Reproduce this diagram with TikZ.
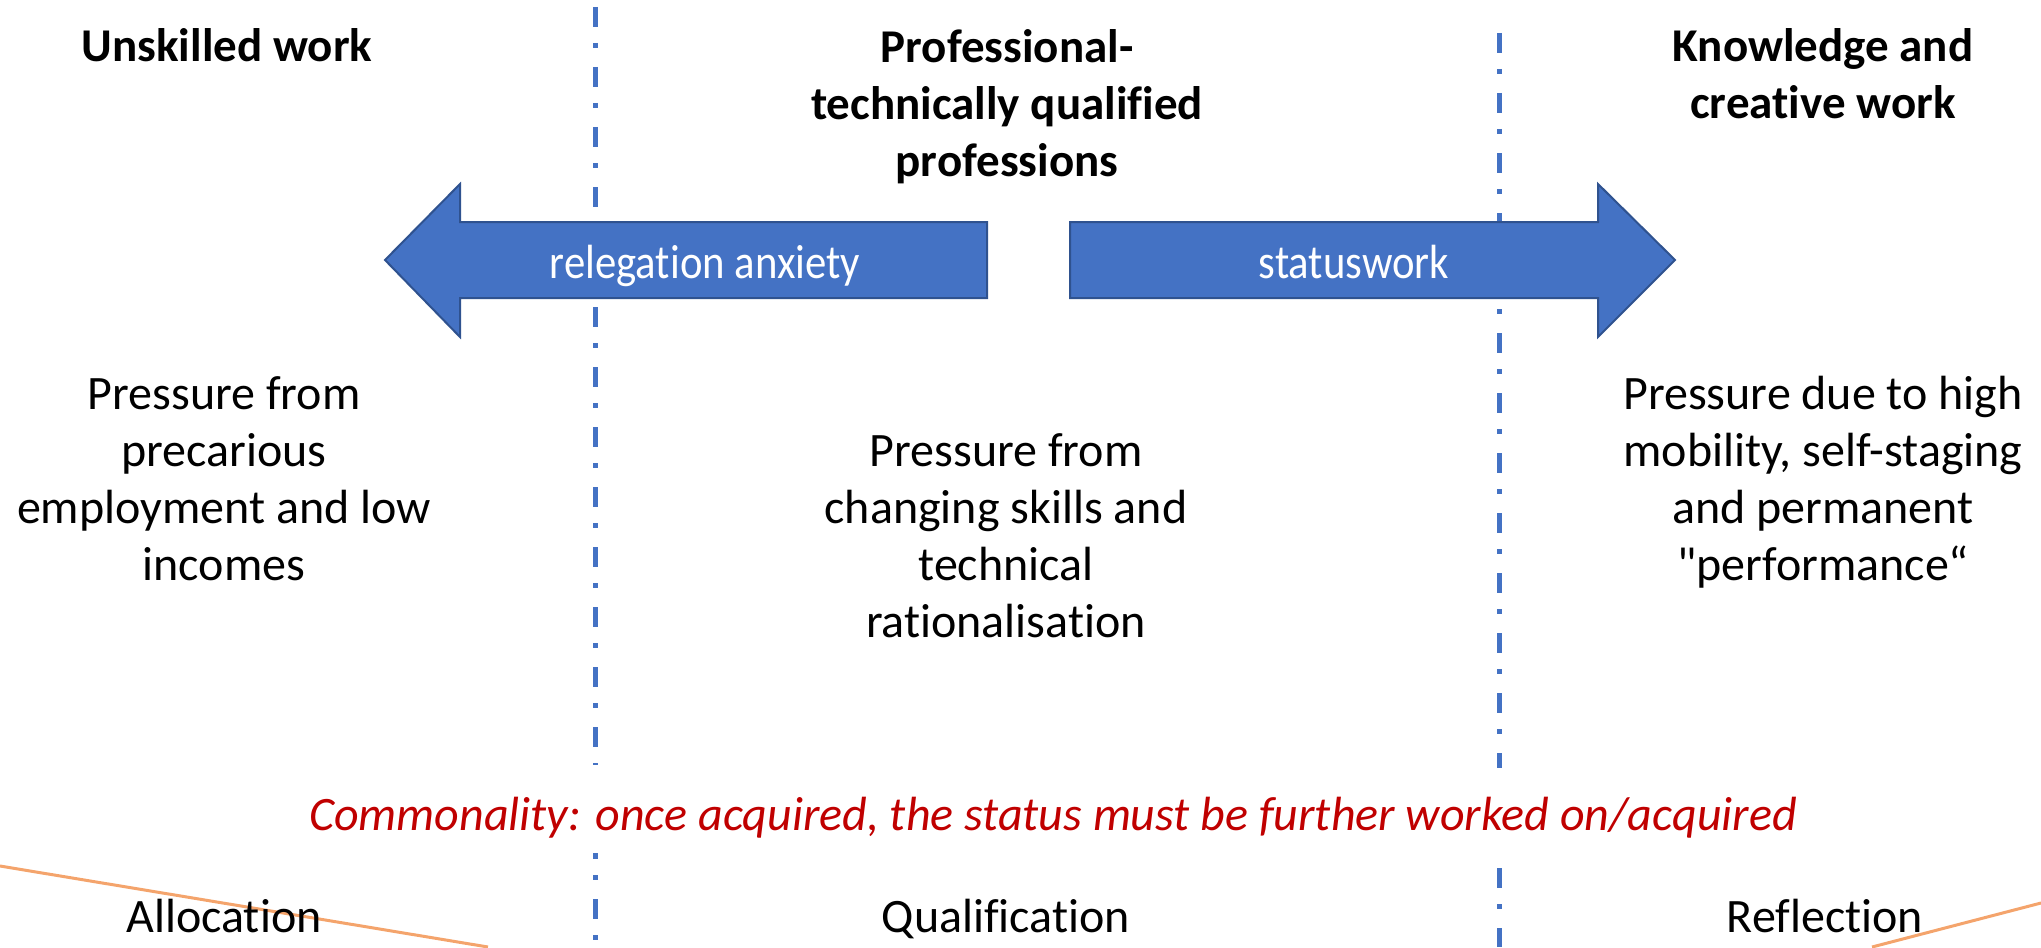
\documentclass[tikz,border=0pt]{standalone}
\usepackage{fontspec}
\setmainfont{Carlito}[Ligatures={TeXOff,CommonOff}]
\newfontfamily\condfont{Carlito}[FakeStretch=0.89,Ligatures={TeXOff,CommonOff}]
\definecolor{officeblue}{HTML}{4472C4}
\definecolor{arrowedge}{HTML}{2F528F}
\definecolor{commred}{HTML}{C00000}
\definecolor{orangeline}{HTML}{F4A46C}
\begin{document}
\begin{tikzpicture}[x=1pt,y=-1pt,
  titletext/.style={font=\fontsize{47}{57}\selectfont\bfseries, align=center, inner sep=0pt, anchor=base},
  bodytext/.style={font=\fontsize{48}{57}\selectfont, align=center, inner sep=0pt, anchor=base},
  arrowlabel/.style={font=\condfont\fontsize{48}{57}\selectfont, text=white, inner sep=0pt, anchor=base},
  divider/.style={draw=officeblue, line width=5pt, dash pattern=on 20pt off 16pt on 5pt off 19pt},
  bigarrow/.style={fill=officeblue, draw=arrowedge, line width=2pt, line join=miter},
  deco/.style={draw=orangeline, line width=3pt},
]
\useasboundingbox (0,0) rectangle (2041,947);

% orange decoration lines
\coordinate (oL1) at (0,866);
\coordinate (oL2) at (488,947);
\coordinate (oR1) at (1872,947);
\coordinate (oR2) at (2041,903);
\draw[deco] (oL1) -- (oL2);
\draw[deco] (oR1) -- (oR2);

% dividers
\coordinate (dLa) at (595,7);
\coordinate (dLb) at (595,765);
\coordinate (dLc) at (595,853);
\coordinate (dLd) at (595,947);
\coordinate (dRa) at (1499,33);
\coordinate (dRb) at (1499,768);
\coordinate (dRc) at (1499,868);
\coordinate (dRd) at (1499,947);
\draw[divider] (dLa) -- (dLb);
\draw[divider, dash phase=14pt] (dLc) -- (dLd);
\draw[divider] (dRa) -- (dRb);
\draw[divider] (dRc) -- (dRd);

% block arrows
\draw[bigarrow] (987,222) -- (460,222) -- (460,184) -- (385,260) -- (460,337) -- (460,298) -- (987,298) -- cycle;
\draw[bigarrow] (1070,222) -- (1598,222) -- (1598,184) -- (1675,260) -- (1598,337) -- (1598,298) -- (1070,298) -- cycle;
\node[arrowlabel] (relabel) at (705,278) {relegation anxiety};
\node[arrowlabel] (stlabel) at (1354,278) {statuswork};

% titles (base anchor = baseline of last line)
\node[titletext] (t1) at (227,62) {Unskilled work};
\node[titletext] (t2) at (1007,176) {Professional-\\technically qualified\\professions};
\node[titletext] (t3) at (1823,119) {Knowledge and\\creative work};

% bodies
\node[bodytext] (b1) at (224,580) {Pressure from\\precarious\\employment and low\\incomes};
\node[bodytext] (b2) at (1006,637) {Pressure from\\changing skills and\\technical\\rationalisation};
\node[bodytext] (b3) at (1823,580) {Pressure due to high\\mobility, self-staging\\and permanent\\"performance“};

% commonality
\node[bodytext, text=commred, font=\fontsize{48}{57}\selectfont\itshape] (comm) at (1053,830) {Commonality: once acquired, the status must be further worked on/acquired};

% bottom labels
\node[bodytext] (l1) at (224,932) {Allocation};
\node[bodytext] (l2) at (1006,932) {Qualification};
\node[bodytext] (l3) at (1825,932) {Reflection};
\end{tikzpicture}
\end{document}
